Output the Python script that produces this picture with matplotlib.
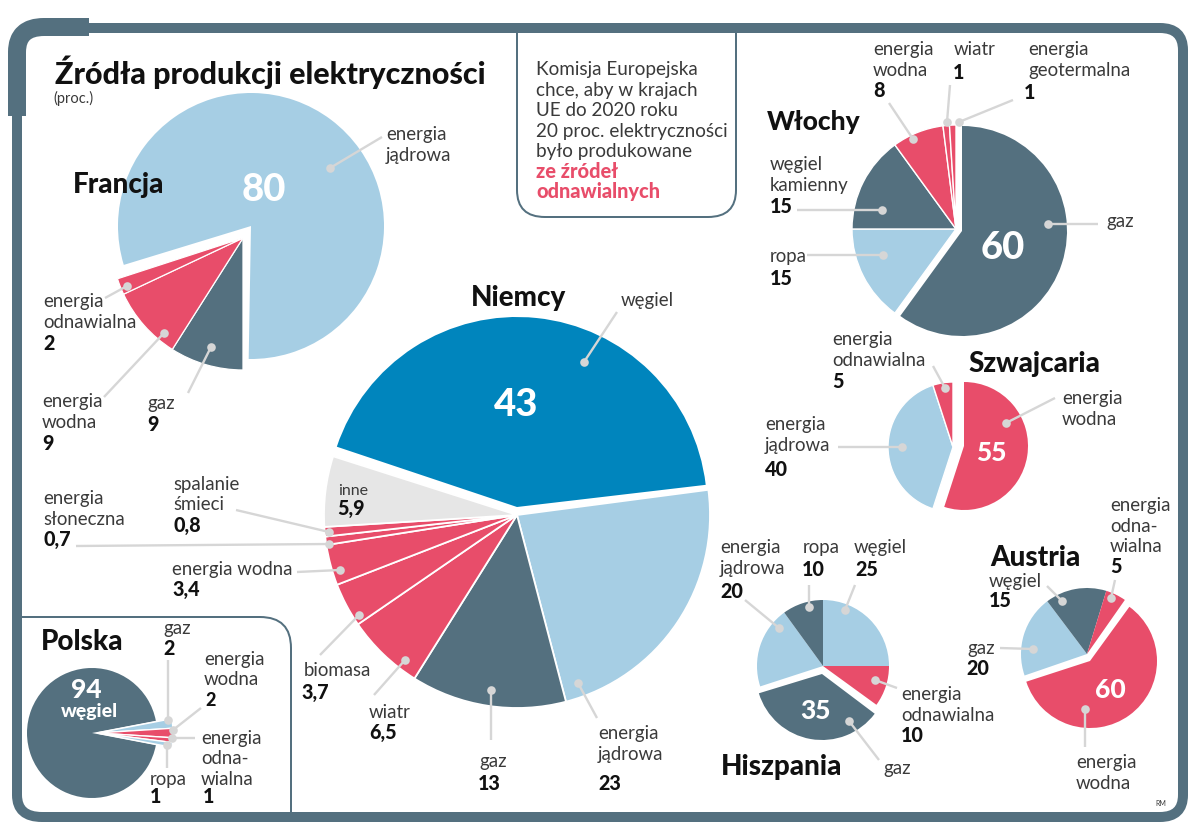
import matplotlib
matplotlib.use("Agg")
import matplotlib.pyplot as plt
from matplotlib.path import Path
from matplotlib.patches import PathPatch

W, H = 1200, 822
DARK, LIGHT, RED, BLUE, GRAY = "#54707f", "#a6cee4", "#e84d6a", "#0085bd", "#e6e6e6"
LINE = "#d6d6d6"
BODY = "#3a3a3a"
SANS = "Lato"
HEAVY = "Lato"
HW = 900

# ---- data (percent) ----
francja_main = [80]
francja_rest = [9, 9, 2]                 # gaz, wodna, odnawialna
niemcy_main = [43]
niemcy_rest = [23, 13, 6.5, 3.7, 3.4, 0.7, 0.8, 5.9]
wlochy_main = [60]
wlochy_rest = [15, 15, 8, 1, 1]          # ropa, węgiel, wodna, wiatr, geotermalna
szwajcaria_main = [55]
szwajcaria_rest = [40, 5]                # jądrowa, odnawialna
hiszpania_main = [35]
hiszpania_rest = [20, 10, 25, 10]        # jądrowa, ropa, węgiel, odnawialna
austria_main = [60]
austria_rest = [20, 15, 5]               # gaz, węgiel, odnawialna
polska_main = [94]
polska_rest = [2, 2, 1, 1]               # gaz, wodna, odnawialna, ropa

fig = plt.figure(figsize=(W / 100, H / 100), dpi=100, facecolor="white")
ax = fig.add_axes([0, 0, 1, 1])


def Y(y):
    return H - y


def pie(values, colors, cx, cy, r, start, edge=0.9):
    ax.pie([v / 100 for v in values], normalize=False, colors=colors, center=(cx, Y(cy)),
           radius=r, startangle=start, counterclock=False, frame=True,
           wedgeprops=dict(edgecolor="white", linewidth=edge))


def txt(x, y, s, size=13.4, color=BODY, family=SANS, weight="normal", ha="left"):
    ax.text(x, Y(y), s, fontsize=size, color=color, family=family, weight=weight,
            ha=ha, va="baseline", zorder=6)


def num(x, y, s, size=14.2):
    txt(x, y, s, size=size, color="#111111", family=HEAVY, weight=HW)


def big(x, y, s, size=27.5):
    ax.text(x, Y(y), s, fontsize=size, color="white", family=HEAVY, weight=HW,
            ha="center", va="center", zorder=6)


def head(x, y, s, size=20):
    txt(x, y, s, size=size, color="#111111", family=HEAVY, weight=HW)


def lead(x0, y0, x1, y1):
    ax.plot([x0, x1], [Y(y0), Y(y1)], color=LINE, lw=1.7, zorder=5, solid_capstyle="butt")
    ax.plot([x1], [Y(y1)], "o", color=LINE, ms=6.2, mew=0, zorder=5)


def stroke(verts, codes, lw, color=DARK):
    v = [(x, Y(y)) for x, y in verts]
    ax.add_patch(PathPatch(Path(v, codes), fill=False, edgecolor=color, linewidth=lw * 0.72,
                           capstyle="butt", joinstyle="round", zorder=1))


M, L, C = Path.MOVETO, Path.LINETO, Path.CURVE3

# ---- frame ----
stroke([(17, 116), (17, 50), (17, 28), (42, 28), (1160, 28), (1183, 28), (1183, 50), (1183, 795),
        (1183, 817), (1160, 817), (42, 817), (17, 817), (17, 795), (17, 116)],
       [M, L, C, C, L, C, C, L, C, C, L, C, C, L], 10)
stroke([(17, 116), (17, 52), (17, 27), (44, 27), (89, 27)], [M, L, C, C, L], 18)
# info box
stroke([(517, 33), (517, 190), (517, 217), (545, 217), (708, 217), (736, 217), (736, 190), (736, 33)],
       [M, L, C, C, L, C, C, L], 2)
# Polska box
stroke([(22, 617), (260, 617), (291, 617), (291, 648), (291, 812)], [M, L, C, C, L], 2)

# ---- pies ----
pie(francja_main, [LIGHT], 251, 226, 133, 197, edge=0)
pie(francja_rest, [DARK, RED, RED], 243, 238, 132, 270)

pie(niemcy_main, [BLUE], 517, 507, 190, 161.5, edge=0)
pie(niemcy_rest, [LIGHT, DARK, RED, RED, RED, RED, RED, GRAY], 517, 515, 193, 7.5, edge=1.3)

pie(wlochy_main, [DARK], 962, 231, 105, 90, edge=0)
pie(wlochy_rest, [LIGHT, DARK, RED, RED, RED], 956, 229, 104, 234, edge=1)

pie(szwajcaria_main, [RED], 964, 446, 64, 90, edge=0)
pie(szwajcaria_rest, [LIGHT, RED], 953, 447, 65, 252, edge=1)

pie(hiszpania_main, [DARK], 822, 674, 66, -37, edge=0)
pie(hiszpania_rest, [LIGHT, DARK, LIGHT, RED], 823, 666, 66, 198, edge=0)

pie(austria_main, [RED], 1090, 661, 67, 54, edge=0)
pie(austria_rest, [LIGHT, DARK, RED], 1087, 654, 66, 199, edge=0)

pie(polska_main, [DARK], 92, 733, 65, -10.8, edge=0)
pie(polska_rest, [LIGHT, RED, RED, LIGHT], 97, 733, 76, 10.8, edge=1)

# ---- title ----
head(55, 84, "Źródła produkcji elektryczności", 22)
txt(53, 103, "(proc.)", 10.5)

# ---- info box ----
for yy, s in zip([75, 96, 116, 137, 157],
                 ["Komisja Europejska", "chce, aby w krajach", "UE do 2020 roku",
                  "20 proc. elektryczności", "było produkowane"]):
    txt(536, yy, s, 13.55)
for yy, s in zip([198 - 20, 198], ["ze źródeł", "odnawialnych"]):
    txt(536, yy, s, 14.4, color=RED, family=HEAVY, weight=HW)

# ---- Francja ----
head(73, 193, "Francja")
big(264, 190, "80")
txt(386, 140, "energia"); txt(386, 161, "jądrowa"); lead(382, 137, 330, 168)
txt(43, 307, "energia"); txt(43, 328, "odnawialna"); num(43, 350, "2"); lead(105, 298, 127, 286)
txt(42, 407, "energia"); txt(42, 428, "wodna"); num(42, 450, "9"); lead(104, 397, 164, 333)
txt(147, 409, "gaz"); num(147, 431, "9"); lead(188, 393, 211, 347)

# ---- Niemcy ----
head(471, 306, "Niemcy")
big(516, 405, "43")
txt(621, 306, "węgiel"); lead(617, 312, 584, 362)
txt(338, 495, "inne", 11.5); num(337, 515, "5,9")
txt(173, 490, "spalanie"); txt(173, 510, "śmieci"); num(173, 532, "0,8"); lead(236, 510, 329, 532)
txt(43, 504, "energia"); txt(43, 525, "słoneczna"); num(43, 546, "0,7"); lead(76, 546, 329, 544)
txt(172, 575, "energia wodna"); num(172, 596, "3,4"); lead(297, 572, 340, 570)
txt(304, 676, "biomasa"); num(301, 699, "3,7"); lead(320, 655, 359, 615)
txt(369, 718, "wiatr"); num(369, 739, "6,5"); lead(374, 695, 405, 660)
txt(479, 767, "gaz"); num(478, 790, "13"); lead(491, 740, 491, 690)
txt(598, 739, "energia"); txt(598, 760, "jądrowa"); num(598, 790, "23"); lead(597, 718, 578, 683)

# ---- Włochy ----
head(767, 130, "Włochy", 19)
big(1003, 248, "60")
txt(873, 55, "energia"); txt(873, 76, "wodna"); num(873, 97, "8"); lead(889, 103, 913, 139)
txt(954, 55, "wiatr"); num(953, 79, "1"); lead(950, 85, 947, 122)
txt(1028, 55, "energia"); txt(1028, 76, "geotermalna"); num(1024, 99, "1"); lead(1013, 100, 959, 122)
txt(770, 170, "węgiel"); txt(770, 191, "kamienny"); num(770, 213, "15"); lead(797, 210, 882, 210)
txt(770, 262, "ropa"); num(770, 285, "15"); lead(807, 255, 883, 255)
txt(1106, 227, "gaz"); lead(1098, 224, 1048, 224)

# ---- Szwajcaria ----
head(968, 372, "Szwajcaria")
big(991, 453, "55", 19)
txt(832, 345, "energia"); txt(832, 366, "odnawialna"); num(832, 388, "5"); lead(933, 366, 945, 388)
txt(1062, 404, "energia"); txt(1062, 425, "wodna"); lead(1055, 398, 1006, 423)
txt(765, 430, "energia"); txt(765, 451, "jądrowa"); num(765, 476, "40"); lead(838, 447, 902, 447)

# ---- Hiszpania ----
head(721, 775, "Hiszpania")
big(815, 711, "35", 19)
txt(720, 553, "energia"); txt(720, 574, "jądrowa"); num(720, 598, "20"); lead(745, 600, 779, 628)
txt(803, 553, "ropa"); num(802, 576, "10"); lead(809, 585, 809, 607)
txt(854, 553, "węgiel"); num(855, 576, "25"); lead(855, 585, 845, 610)
txt(901, 700, "energia"); txt(901, 721, "odnawialna"); num(901, 742, "10"); lead(897, 688, 875, 680)
txt(883, 774, "gaz"); lead(879, 760, 849, 721)

# ---- Austria ----
head(990, 566, "Austria")
big(1110, 690, "60", 19)
txt(989, 587, "węgiel"); num(989, 607, "15"); lead(1047, 586, 1062, 601)
txt(1110, 511, "energia"); txt(1110, 532, "odna-"); txt(1110, 552, "wialna"); num(1110, 573, "5")
lead(1115, 580, 1111, 598)
txt(967, 654, "gaz"); num(966, 675, "20"); lead(1000, 648, 1033, 649)
txt(1076, 768, "energia"); txt(1076, 789, "wodna"); lead(1085, 747, 1085, 709)
txt(1155, 806, "RM", 5)

# ---- Polska ----
head(41, 650, "Polska")
big(86, 690, "94", 19)
ax.text(89, Y(711), "węgiel", fontsize=14, color="white", family=HEAVY, weight=HW,
        ha="center", va="center", zorder=6)
txt(163, 634, "gaz"); num(163, 655, "2"); lead(168, 660, 168, 720)
txt(204, 665, "energia"); txt(204, 685, "wodna"); num(205, 706, "2", 13); lead(201, 708, 173, 730)
txt(201, 744, "energia"); txt(201, 764, "odna-"); txt(201, 785, "wialna"); num(203, 803, "1")
lead(195, 738, 172, 738)
txt(150, 785, "ropa"); num(150, 803, "1"); lead(167, 768, 167, 745)

ax.set_xlim(0, W)
ax.set_ylim(0, H)
ax.set_aspect("equal")
ax.axis("off")
fig.savefig("out.png", dpi=100, facecolor="white")
